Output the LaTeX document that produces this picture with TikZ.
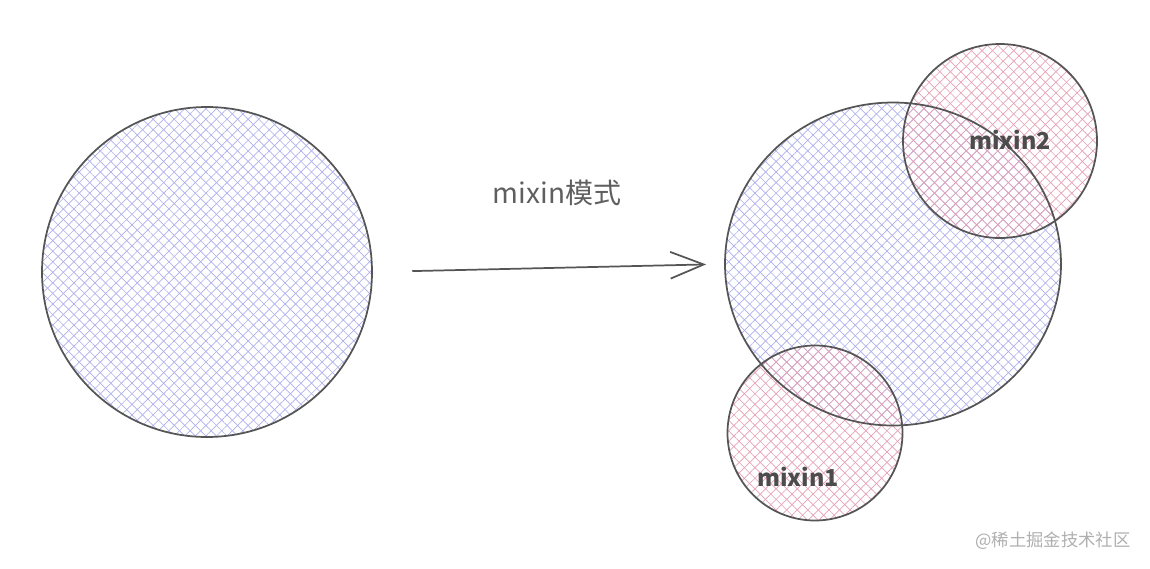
\documentclass[tikz,border=0pt]{standalone}
\usepackage{fontspec}
\setmainfont{Noto Sans CJK SC}
\usetikzlibrary{patterns.meta,arrows.meta,shapes.geometric}
\definecolor{outl}{RGB}{85,85,85}
\definecolor{bluehatch}{RGB}{172,175,236}
\definecolor{pinkhatch}{RGB}{229,160,180}
\definecolor{labelgray}{RGB}{95,95,95}
\definecolor{markgray}{RGB}{175,175,175}

\begin{document}
\begin{tikzpicture}[x=0.75pt,y=0.75pt,yscale=-1,xscale=1,
  hatch/.style={postaction={pattern={Lines[angle=45,distance=5.6pt,line width=0.5pt]},pattern color=#1},
                postaction={pattern={Lines[angle=-45,distance=5.6pt,line width=0.5pt]},pattern color=#1}},
  ring/.style={draw=outl,line width=1.3pt},
  lbl/.style={font=\bfseries\fontsize{17.5}{17.5}\selectfont,text=outl!90!black,inner sep=0.75pt}]
\useasboundingbox (0,0) rectangle (1150,568);

% Shapes: hatched fills
\node (single) [circle,minimum size=247.5pt,inner sep=0,hatch=bluehatch] at (207,272) {};
\node (big) [ellipse,minimum width=252pt,minimum height=242pt,inner sep=0,hatch=bluehatch] at (893,264) {};
\node (mtwo) [circle,minimum size=145.5pt,inner sep=0,hatch=pinkhatch] at (1000,141) {};
\node (mone) [circle,minimum size=131pt,inner sep=0,hatch=pinkhatch] at (815,433) {};

% Outlines on top
\draw [ring] (single.center) circle [radius=165];
\draw [ring] (big.center) ellipse [x radius=168, y radius=161.5];
\draw [ring] (mtwo.center) circle [radius=97];
\draw [ring] (mone.center) circle [radius=87.5];

% Arrow
\draw [outl,line width=1.3pt,-{Straight Barb[length=25pt,width=20pt,line width=1.3pt]},shorten <=30pt,shorten >=14pt] (single.east) -- (big.west);

% Text Node
\node (mode) at (557,193) [text=labelgray,inner sep=0.75pt] {\fontsize{21}{21}\selectfont mixin模式};
% Text Node
\node (ltwo) at (1010,140) [lbl] {mixin2};
% Text Node
\node (lone) at (798,477) [lbl] {mixin1};
% Text Node
\node (mark) at (1053,541) [text=markgray,inner sep=0.75pt] {\fontsize{13}{13}\selectfont @稀土掘金技术社区};
\end{tikzpicture}
\end{document}
